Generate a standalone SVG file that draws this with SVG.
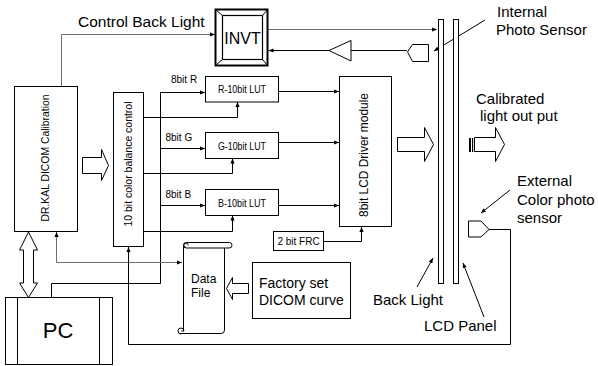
<svg xmlns="http://www.w3.org/2000/svg" width="598" height="366" viewBox="0 0 598 366">
<defs>
<marker id="a" viewBox="0 0 6 5" refX="6" refY="2.5" markerWidth="5" markerHeight="4.5" orient="auto-start-reverse" markerUnits="userSpaceOnUse">
<path d="M0,0 L6,2.5 L0,5 z" fill="#000"/>
</marker>
<style>
.box{fill:#fff;stroke:#000;stroke-width:1}
.ln{fill:none;stroke:#000;stroke-width:1}
.gl{fill:none;stroke:#707070;stroke-width:1}
.ar{marker-end:url(#a)}
.hol{fill:#fff;stroke:#000;stroke-width:1}
text{font-family:"Liberation Sans",Arial,sans-serif;fill:#000}
.big{font-size:15px}
.sm{font-size:10px}
.lut{font-size:11px}
</style>
</defs>
<rect width="598" height="366" fill="#fff"/>

<g id="connectors">
<path class="gl ar" d="M61.5,86 V34.5 H215"/>
<path class="gl ar" d="M268,29.5 H437"/>
<path class="ln" d="M407,50.5 H351"/>
<path class="ln ar" d="M329,50.5 H268.5"/>
<path class="ln ar" d="M51.5,297 V283.5 H160.5 V92.5 H205"/>
<path class="ln ar" d="M160.5,148.5 H205"/>
<path class="ln ar" d="M160.5,205.5 H205"/>
<path class="ln ar" d="M143.5,117.5 H237.5 V102"/>
<path class="ln ar" d="M143.5,173.5 H232.5 V158.5"/>
<path class="ln ar" d="M143.5,231.5 H232.5 V215.5"/>
<path class="ln ar" d="M278.5,91.5 H339"/>
<path class="ln ar" d="M278.5,142.5 H339"/>
<path class="ln ar" d="M278.5,205.5 H339"/>
<path class="ln ar" d="M323.5,241.5 H361.5 V227"/>
<path class="gl ar" style="marker-start:url(#a)" d="M56.5,232 V262.5 H182"/>
<path class="ln ar" d="M489,229.5 H510.5 V344.5 H128.5 V247"/>
<path class="ln ar" d="M485,20 L434,51"/>
<path class="ln ar" d="M510,190 L481,213"/>
<path class="ln ar" d="M417,287 L433,258"/>
<path class="ln ar" d="M484,317 L463,263"/>
<polygon class="hol" points="82.5,157.5 101.5,157.5 101.5,149.5 108.5,165.5 101.5,180.5 101.5,173.5 82.5,173.5"/>
<polygon class="hol" points="28.5,232 37.5,250 33.5,250 33.5,283 37.5,283 28.5,297.5 19.5,283 23.5,283 23.5,250 19.5,250"/>
<polygon class="hol" points="397.5,137.5 424.5,137.5 424.5,127.5 433.5,144.5 424.5,161.5 424.5,151.5 397.5,151.5"/>
<polygon class="hol" points="248.5,283.5 232.5,283.5 232.5,277.5 226.5,288.5 232.5,299.5 232.5,293.5 248.5,293.5"/>
</g>

<g id="control-back-light-label"><text class="big" x="78" y="27" style="font-size:15.5px">Control Back Light</text></g>

<g id="invt">
<rect x="215.5" y="9.5" width="52" height="56" fill="#fff" stroke="#000" stroke-width="2"/>
<rect x="222.5" y="15.5" width="40" height="44" fill="none" stroke="#000" stroke-width="1.2"/>
<path class="ln" d="M215.5,9.5 L222.5,15.5 M267.5,9.5 L262.5,15.5 M215.5,65.5 L222.5,59.5 M267.5,65.5 L262.5,59.5"/>
<text x="242.5" y="43.5" text-anchor="middle" style="font-size:16px">INVT</text>
</g>

<g id="amplifier"><polygon class="box" points="329,50.5 351,40.5 351,61"/></g>

<g id="internal-photo-sensor">
<polygon class="box" points="407.5,52 412.5,44.5 428.5,44.5 428.5,61.5 412.5,61.5"/>
<text class="big" x="497" y="17">Internal</text>
<text class="big" x="496" y="35">Photo Sensor</text>
</g>

<g id="dr-kal">
<rect class="box" x="14.5" y="86.5" width="63" height="145"/>
<text transform="translate(45,158) rotate(-90)" y="3.8" text-anchor="middle" style="font-size:10.5px" textLength="127" lengthAdjust="spacingAndGlyphs">DR.KAL DICOM Calibration</text>
</g>

<g id="color-balance">
<rect class="box" x="113.5" y="92.5" width="30" height="154"/>
<text transform="translate(128,164) rotate(-90)" y="3.8" text-anchor="middle" style="font-size:10.5px" textLength="125" lengthAdjust="spacingAndGlyphs">10 bit color balance control</text>
</g>

<g id="lut-r">
<rect class="box" x="205.5" y="76.5" width="73" height="25.5"/>
<text class="lut" x="242" y="93" text-anchor="middle" textLength="48" lengthAdjust="spacingAndGlyphs">R-10bit LUT</text>
<text class="sm" x="171" y="83">8bit R</text>
</g>
<g id="lut-g">
<rect class="box" x="205.5" y="132.5" width="73" height="26"/>
<text class="lut" x="242" y="149.5" text-anchor="middle" textLength="48" lengthAdjust="spacingAndGlyphs">G-10bit LUT</text>
<text class="sm" x="165.5" y="141">8bit G</text>
</g>
<g id="lut-b">
<rect class="box" x="205.5" y="189.5" width="73" height="26"/>
<text class="lut" x="242" y="206.5" text-anchor="middle" textLength="48" lengthAdjust="spacingAndGlyphs">B-10bit LUT</text>
<text class="sm" x="165.5" y="198">8bit B</text>
</g>

<g id="lcd-driver">
<rect class="box" x="339.5" y="76.5" width="52" height="150"/>
<text transform="translate(364,155) rotate(-90)" y="4.3" text-anchor="middle" style="font-size:12px" textLength="124" lengthAdjust="spacingAndGlyphs">8bit LCD Driver module</text>
</g>

<g id="frc">
<rect class="box" x="273.5" y="231.5" width="50" height="19"/>
<text class="sm" x="298.5" y="245" text-anchor="middle">2 bit FRC</text>
</g>

<g id="back-light">
<rect class="box" x="438.5" y="19.5" width="5" height="264"/>
<text class="big" x="373" y="305">Back Light</text>
</g>
<g id="lcd-panel">
<rect class="box" x="453.5" y="19.5" width="5" height="264"/>
<text class="big" x="424" y="331">LCD Panel</text>
</g>

<g id="calibrated-output">
<rect x="469" y="138" width="2" height="14" fill="#000"/>
<rect x="472" y="138" width="1.2" height="14" fill="#000"/>
<polygon class="hol" points="474.5,137.5 495.5,137.5 495.5,127.5 504.5,144.5 495.5,161.5 495.5,151.5 474.5,151.5"/>
<text class="big" x="476" y="104">Calibrated</text>
<text class="big" x="480" y="121">light out put</text>
</g>

<g id="external-sensor">
<polygon class="box" points="468.5,221 481,221 489,229.5 481,237 468.5,237"/>
<text class="big" x="517" y="186">External</text>
<text class="big" x="517" y="205">Color photo</text>
<text class="big" x="517" y="223">sensor</text>
</g>

<g id="data-file">
<path class="ln" d="M183.5,245 V331 M224.5,248 V330 Q224.5,333.5 221,333.5 H180"/>
<rect x="183.5" y="242.5" width="48.5" height="5.5" rx="2.75" fill="#fff" stroke="#000"/>
<path class="ln" d="M186,247.5 A2.2,2.2 0 1 1 188.2,245.3"/>
<path class="ln" d="M181,334 A3,3 0 1 1 184,331 H181.5"/>
<text x="191" y="283" style="font-size:12px">Data</text>
<text x="191" y="297" style="font-size:12px">File</text>
</g>

<g id="factory">
<rect class="box" x="252.5" y="262.5" width="98" height="56"/>
<text x="259" y="288" style="font-size:14px">Factory set</text>
<text x="259" y="305" style="font-size:14px">DICOM curve</text>
</g>

<g id="pc">
<rect class="box" x="5.5" y="297.5" width="107" height="67"/>
<path class="ln" d="M17.5,297.5 V364.5 M99.5,297.5 V364.5"/>
<text x="58" y="338" text-anchor="middle" style="font-size:22px">PC</text>
</g>
</svg>
